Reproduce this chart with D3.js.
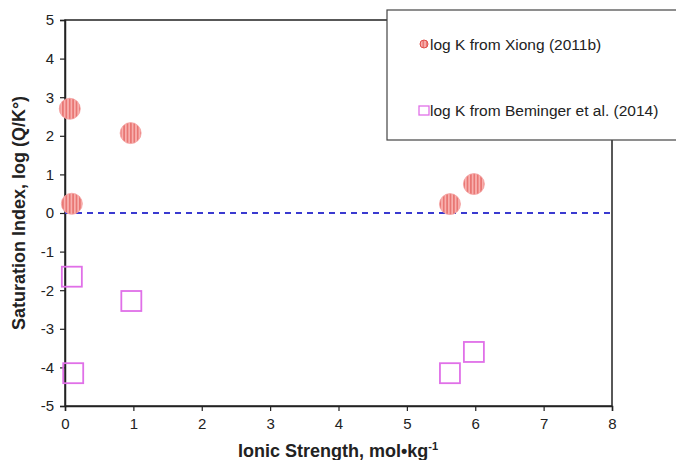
<!DOCTYPE html>
<html>
<head>
<meta charset="utf-8">
<script src="https://cdn.jsdelivr.net/npm/d3@7"></script>
<style>
  body { margin: 0; background: #fff; }
  text { font-family: "Liberation Sans", Arial, sans-serif; fill: #222; }
</style>
</head>
<body>
<svg id="chart" width="676" height="460"></svg>
<script>
var margin = {top: 20, right: 64, bottom: 54, left: 65};
var width = 676, height = 460;

// data
var xiong_x = [0.07, 0.1, 0.96, 5.63, 5.98];
var xiong_y = [2.7, 0.24, 2.07, 0.23, 0.75];
var bem_x = [0.1, 0.12, 0.97, 5.63, 5.98];
var bem_y = [-1.65, -4.15, -2.28, -4.15, -3.6];
var x_ticks = [0, 1, 2, 3, 4, 5, 6, 7, 8];
var y_ticks = [5, 4, 3, 2, 1, 0, -1, -2, -3, -4, -5];
var legend_labels = ["log K from Xiong (2011b)", "log K from Beminger et al. (2014)"];

var svg = d3.select("#chart");

var x = d3.scaleLinear().domain([0, 8]).range([margin.left, width - margin.right]);
var y = d3.scaleLinear().domain([-5, 5]).range([height - margin.bottom, margin.top]);

// stripe pattern for circles
var defs = svg.append("defs");
var pat = defs.append("pattern")
    .attr("id", "stripes")
    .attr("patternUnits", "userSpaceOnUse")
    .attr("width", 3.4).attr("height", 10);
pat.append("rect").attr("width", 3.4).attr("height", 10).attr("fill", "#f8b0ae");
pat.append("rect").attr("x", 1.2).attr("width", 1).attr("height", 10).attr("fill", "#e0504c");

// plot frame
svg.append("rect")
    .attr("x", x(0)).attr("y", y(5))
    .attr("width", x(8) - x(0)).attr("height", y(-5) - y(5))
    .attr("fill", "none").attr("stroke", "#222").attr("stroke-width", 1.5);

// axes (plain hyphen minus like the original)
var fmt = function(d){ return String(d); };
var xAxis = svg.append("g")
    .attr("transform", `translate(0, ${y(-5)})`)
    .call(d3.axisBottom(x).tickValues(x_ticks).tickFormat(fmt).tickSize(5).tickPadding(7));
var yAxis = svg.append("g")
    .attr("transform", `translate(${x(0)}, 0)`)
    .call(d3.axisLeft(y).tickValues(y_ticks).tickFormat(fmt).tickSize(5).tickPadding(6));
[xAxis, yAxis].forEach(function(g){
    g.select(".domain").attr("stroke", "#222").attr("stroke-width", 1.5);
    g.selectAll(".tick line").attr("stroke", "#222").attr("stroke-width", 1.2);
    g.selectAll(".tick text").style("font-size", "15px").style("font-family", "Liberation Sans, Arial, sans-serif").attr("fill", "#333");
});

// zero line
svg.append("line")
    .attr("x1", x(0)).attr("x2", x(8))
    .attr("y1", y(0)).attr("y2", y(0))
    .attr("stroke", "#3a3ad0").attr("stroke-width", 2)
    .attr("stroke-dasharray", "6,5");

// Xiong circles
svg.selectAll("circle.xiong")
    .data(d3.range(xiong_x.length))
    .enter().append("circle")
    .attr("class", "xiong")
    .attr("cx", function(i){ return x(xiong_x[i]); })
    .attr("cy", function(i){ return y(xiong_y[i]); })
    .attr("r", 10.5)
    .attr("fill", "url(#stripes)")
    .attr("stroke", "#f4a0a0").attr("stroke-width", 0.8);

// Beminger squares
var sq = 20;
svg.selectAll("rect.bem")
    .data(d3.range(bem_x.length))
    .enter().append("rect")
    .attr("class", "bem")
    .attr("x", function(i){ return x(bem_x[i]) - sq / 2; })
    .attr("y", function(i){ return y(bem_y[i]) - sq / 2; })
    .attr("width", sq).attr("height", sq)
    .attr("fill", "none")
    .attr("stroke", "#e070e8").attr("stroke-width", 1.8);

// legend
var lg = svg.append("g");
lg.append("rect")
    .attr("x", 387).attr("y", 10).attr("width", 300).attr("height", 130)
    .attr("fill", "#fff").attr("stroke", "#444").attr("stroke-width", 1.2);
lg.append("circle").attr("cx", 424).attr("cy", 44).attr("r", 4)
    .attr("fill", "url(#stripes)").attr("stroke", "#e0504c").attr("stroke-width", 1);
lg.append("rect").attr("x", 419).attr("y", 106).attr("width", 10).attr("height", 9)
    .attr("fill", "none").attr("stroke", "#e070e8").attr("stroke-width", 1.3);
lg.selectAll("text.leg")
    .data(legend_labels)
    .enter().append("text")
    .attr("class", "leg")
    .attr("x", 430)
    .attr("y", function(d, i){ return i === 0 ? 50 : 116; })
    .style("font-size", "15.5px")
    .text(function(d){ return d; });

// axis titles
svg.append("text")
    .attr("transform", `translate(25, ${y(0)}) rotate(-90)`)
    .attr("text-anchor", "middle")
    .style("font-size", "18px").style("font-weight", "bold")
    .text("Saturation Index, log (Q/K°)");

var xt = svg.append("text")
    .attr("x", 338).attr("y", 457)
    .attr("text-anchor", "middle")
    .style("font-size", "18px").style("font-weight", "bold");
xt.append("tspan").text("Ionic Strength, mol•kg");
xt.append("tspan").attr("dy", -7).style("font-size", "11px").text("-1");
</script>
</body>
</html>
